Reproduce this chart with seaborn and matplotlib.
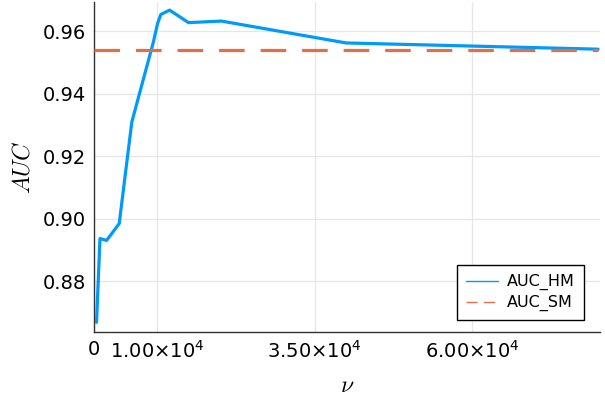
import matplotlib
matplotlib.use("Agg")
import matplotlib.pyplot as plt
import seaborn as sns
import pandas as pd

nu = [400, 950, 2000, 4000, 6000, 9400, 10100, 10600, 12000, 15000, 20200, 40000, 80000]
auc_hm = [0.8668, 0.8936, 0.8930, 0.8984, 0.9309, 0.9563, 0.9625, 0.9653, 0.9667,
          0.9627, 0.9632, 0.9562, 0.9542]
auc_sm = 0.9539
x_range = [0, 80000]
xticks = [0, 10000, 35000, 60000]
xtick_labels = ["0", r"1.00$\times$10$^{4}$", r"3.50$\times$10$^{4}$", r"6.00$\times$10$^{4}$"]
yticks = [0.88, 0.90, 0.92, 0.94, 0.96]
ytick_labels = ["0.88", "0.90", "0.92", "0.94", "0.96"]

sns.set_style("white")
plt.rcParams["font.family"] = ["DejaVu Sans"]
plt.rcParams["mathtext.fontset"] = "dejavusans"

fig = plt.figure(figsize=(6.05, 3.98), dpi=100)
ax = fig.add_axes([94 / 605, 1 - 332 / 398, (600 - 94) / 605, (332 - 2) / 398])

df_hm = pd.DataFrame({"nu": nu, "auc": auc_hm})
df_sm = pd.DataFrame({"nu": x_range, "auc": [auc_sm, auc_sm]})

sns.lineplot(data=df_hm, x="nu", y="auc", ax=ax, color="#009AFA", lw=2.3,
             label="AUC_HM", zorder=3)
sns.lineplot(data=df_sm, x="nu", y="auc", ax=ax, color="#E26F46", lw=2.3,
             label="AUC_SM", zorder=3, dashes=False)
ax.lines[1].set_dashes((8, 5))

ax.set_xlim(0, 80300)
ax.set_ylim(0.8637, 0.9693)
ax.set_xticks(xticks)
ax.set_xticklabels(xtick_labels, fontsize=14, color="black")
ax.set_yticks(yticks)
ax.set_yticklabels(ytick_labels, fontsize=14, color="black")
ax.tick_params(direction="in", length=4, width=0.8, color="#333333", pad=6)

ax.grid(True, color="#e6e6e6", lw=0.9)
for s in ["top", "right"]:
    ax.spines[s].set_visible(False)
for s in ["left", "bottom"]:
    ax.spines[s].set_color("#333333")
    ax.spines[s].set_linewidth(1.0)

ax.set_xlabel(r"$\nu$", fontsize=17, math_fontfamily="cm", labelpad=8, color="black")
ax.set_ylabel(r"$AUC$", fontsize=17, math_fontfamily="cm", labelpad=6, color="black")

leg = ax.legend(loc="lower right", bbox_to_anchor=(0.968, 0.036), fontsize=11.5,
                frameon=True, fancybox=False, edgecolor="black", framealpha=1,
                borderaxespad=0, handlelength=2.0, handletextpad=0.6,
                borderpad=0.55, labelspacing=0.3)
leg.get_frame().set_linewidth(1.0)
for t in leg.get_texts():
    t.set_color("black")
for ln in leg.get_lines():
    ln.set_linewidth(1.0)
leg.get_lines()[1].set_dashes((8, 4.5))

fig.savefig("out.png", dpi=100)
